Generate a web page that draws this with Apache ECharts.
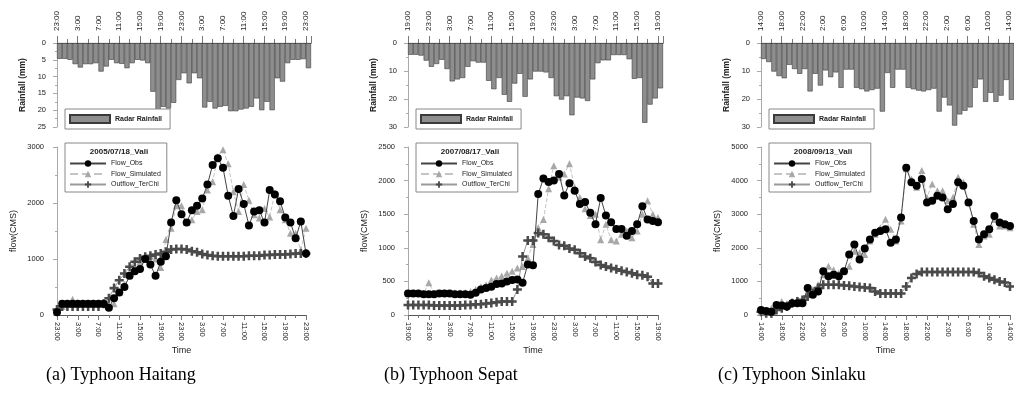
<!DOCTYPE html>
<html><head><meta charset="utf-8">
<script src="https://cdn.jsdelivr.net/npm/echarts@6/dist/echarts.min.js"></script>
<style>html,body{margin:0;padding:0;background:#fff;}#c{width:1014px;height:399px;}</style>
</head><body><div id="c"></div>
<script>
// ---------- DATA ----------
const timeLabelsA = ['23:00','3:00','7:00','11:00','15:00','19:00','23:00','3:00','7:00','11:00','15:00','19:00','23:00'];
const timeLabelsB = ['19:00','23:00','3:00','7:00','11:00','15:00','19:00','23:00','3:00','7:00','11:00','15:00','19:00'];
const timeLabelsC = ['14:00','18:00','22:00','2:00','6:00','10:00','14:00','18:00','22:00','2:00','6:00','10:00','14:00'];

const eventA = '2005/07/18_Vali';
const eventB = '2007/08/17_Vali';
const eventC = '2008/09/13_Vali';
const captions = ['(a) Typhoon Haitang', '(b) Typhoon Sepat', '(c) Typhoon Sinlaku'];

const rainA = [4.7,4.7,5.0,6.3,7.3,6.3,6.3,6.0,8.5,7.0, 5.0,6.0,6.2,7.5,6.0,5.0,5.2,6.0,14.5,21.0, 19.0,19.5,17.8,11.0,9.0,12.0,9.0,10.5,19.2,17.5, 19.5,19.0,18.7,20.3,20.3,19.8,19.5,19.0,16.5,20.0, 17.5,20.0,10.5,11.5,6.0,5.0,5.0,4.8,7.5];
const rainB = [4.2,4.2,4.5,6.3,8.5,7.5,6.0,9.3,13.7,13.0, 12.5,8.5,6.5,7.0,7.0,13.5,16.5,12.5,18.5,21.0, 14.5,11.0,19.2,13.0,10.2,10.2,10.5,12.5,19.0,20.2, 19.0,25.8,19.5,19.8,20.7,13.0,7.2,6.2,6.2,4.3, 4.3,4.3,5.8,12.8,12.5,28.5,22.0,19.8,16.2];
const rainC = [5.7,6.8,10.2,11.8,12.6,7.8,9.3,11.0,9.3,17.3, 11.0,15.2,9.8,12.2,10.5,16.0,9.5,9.5,16.0,16.5, 17.3,16.8,16.3,24.5,10.7,16.0,9.5,9.5,16.0,16.5, 17.0,17.3,16.8,16.3,24.5,19.5,22.3,29.5,25.5,24.2, 23.0,16.0,13.0,21.0,17.8,21.0,18.8,13.2,20.3];

const obsA = [50,200,200,200,200,200,200,200,200,200, 130,300,400,500,700,780,820,1000,900,700, 950,1050,1650,2050,1800,1650,1870,1950,2080,2330, 2680,2800,2630,2130,1770,2250,1980,1600,1850,1870, 1650,2230,2150,2030,1740,1650,1370,1670,1100];
const simA = [80,150,200,280,220,200,200,200,200,200, 180,200,400,550,700,850,950,1000,1050,1000, 850,1350,1550,1950,1950,1650,1700,1850,1880,2230, 2380,2830,2950,2700,2200,1850,2330,2050,1790,1730, 1900,1750,2180,1880,1700,1460,1460,1160,1550];
const outA = [100,150,150,150,150,150,150,150,150,200, 300,480,620,740,860,950,1010,1040,1060,1080, 1100,1130,1170,1180,1180,1170,1140,1120,1090,1070, 1060,1050,1050,1050,1050,1050,1050,1060,1060,1060, 1070,1070,1080,1080,1080,1090,1100,1100,1100];

const obsB = [320,320,320,310,310,310,320,320,320,310, 310,310,300,330,380,400,420,460,470,500, 520,530,480,750,740,1800,2030,1980,2000,2100, 1780,1960,1850,1650,1680,1520,1350,1740,1480,1380, 1280,1280,1180,1250,1350,1620,1420,1400,1380];
const simB = [320,320,320,320,480,320,320,330,320,330, 330,330,350,380,420,450,520,550,580,620, 650,700,720,850,1050,1300,1420,1880,2220,2050, 2100,2250,1900,1750,1580,1480,1500,1120,1350,1120, 1100,1200,1250,1150,1250,1500,1700,1500,1450];
const outB = [150,150,150,150,150,140,140,140,140,140, 140,150,150,160,160,170,180,190,200,200, 200,380,870,1110,1110,1220,1200,1150,1100,1040, 1030,990,970,920,870,845,790,745,720,700, 680,660,640,620,600,590,570,470,470];

const obsC = [150,120,100,300,280,250,350,350,350,800, 600,700,1300,1150,1200,1150,1300,1800,2100,1650, 1980,2250,2450,2500,2550,2150,2250,2900,4380,3950, 3850,4050,3350,3400,3550,3500,3150,3300,3950,3850, 3350,2800,2250,2400,2550,2950,2750,2700,2650];
const simC = [100,100,200,300,400,350,400,450,450,600, 750,900,1200,1450,1350,1250,1300,1450,1900,1850, 1800,2200,2400,2600,2850,2550,2200,2800,4350,4050, 3800,4300,3500,3900,3700,3700,3400,3500,4100,3950, 3350,2700,2100,2350,2400,2850,2650,2650,2600];
const outC = [100,50,50,150,200,250,350,400,450,550, 650,800,900,900,900,900,880,870,850,830, 820,800,700,640,640,640,640,640,850,1100, 1220,1280,1280,1280,1280,1280,1280,1280,1280,1280, 1280,1280,1250,1150,1100,1050,1000,970,850];

// ---------- LAYOUT ----------
const layout = [
  {x:57,  rainW:254, flowW:249, rainMax:25, rainInt:5,  flowMax:3000, flowInt:1000, capX:46},
  {x:408, rainW:255, flowW:250, rainMax:30, rainInt:10, flowMax:2500, flowInt:500,  capX:384},
  {x:761, rainW:255, flowW:249, rainMax:30, rainInt:10, flowMax:5000, flowInt:1000, capX:718}
];
const panelData = [
  {labels:timeLabelsA, rain:rainA, obs:obsA, sim:simA, out:outA, ev:eventA},
  {labels:timeLabelsB, rain:rainB, obs:obsB, sim:simB, out:outB, ev:eventB},
  {labels:timeLabelsC, rain:rainC, obs:obsC, sim:simC, out:outC, ev:eventC}
];

const RAIN_TOP = 43, RAIN_H = 84, FLOW_TOP = 147, FLOW_H = 168;
const txt = '#222', axisCol = '#777';
const FONT = 'Liberation Sans';
const crossPath = 'path://M3.6,0H6.4V3.6H10V6.4H6.4V10H3.6V6.4H0V3.6H3.6Z';

const grid = [], xAxis = [], yAxis = [], series = [], legend = [], title = [];

panelData.forEach((p, k) => {
  const L = layout[k];
  const gRain = grid.length;
  grid.push({left:L.x, top:RAIN_TOP, width:L.rainW, height:RAIN_H});
  const gFlow = grid.length;
  grid.push({left:L.x, top:FLOW_TOP, width:L.flowW, height:FLOW_H});

  const fmt = v => (v % 4 === 0 && p.labels[v/4] !== undefined) ? p.labels[v/4] : '';
  const plain = v => String(v);
  xAxis.push({type:'value', gridIndex:gRain, position:'top', min:0, max:p.rain.length, interval:4,
    axisLine:{lineStyle:{color:'#333', width:1}}, splitLine:{show:false},
    axisTick:{show:true, inside:false, length:7, lineStyle:{color:axisCol}},
    minorTick:{show:true, splitNumber:2, length:4, lineStyle:{color:axisCol}},
    axisLabel:{rotate:90, margin:12, fontSize:8, color:txt, fontFamily:FONT, formatter:fmt}});
  yAxis.push({type:'value', gridIndex:gRain, inverse:true, min:0, max:L.rainMax, interval:L.rainInt,
    name:'Rainfall (mm)', nameLocation:'middle', nameGap:30, nameRotate:90,
    nameTextStyle:{fontSize:8.5, fontWeight:'bold', color:txt, fontFamily:FONT},
    axisLine:{show:true, lineStyle:{color:'#aaa'}}, splitLine:{show:false},
    axisTick:{show:true, length:4, lineStyle:{color:'#aaa'}},
    minorTick:{show:true, splitNumber:2, length:2, lineStyle:{color:'#aaa'}},
    axisLabel:{fontSize:7.5, color:txt, fontFamily:FONT, margin:11, formatter:plain}});
  xAxis.push({type:'value', gridIndex:gFlow, min:0, max:p.obs.length-1, interval:4,
    name:'Time', nameLocation:'middle', nameGap:31,
    nameTextStyle:{fontSize:9, color:txt, fontFamily:FONT},
    axisLine:{lineStyle:{color:'#555'}}, splitLine:{show:false},
    axisTick:{show:true, length:5, lineStyle:{color:'#777'}},
    minorTick:{show:true, splitNumber:2, length:3, lineStyle:{color:'#777'}},
    axisLabel:{rotate:-90, margin:7, fontSize:7.5, color:txt, fontFamily:FONT, formatter:fmt}});
  yAxis.push({type:'value', gridIndex:gFlow, min:0, max:L.flowMax, interval:L.flowInt,
    name:'flow(CMS)', nameLocation:'middle', nameGap:39, nameRotate:90,
    nameTextStyle:{fontSize:9, color:txt, fontFamily:FONT},
    axisLine:{show:true, lineStyle:{color:'#aaa'}}, splitLine:{show:false},
    axisTick:{show:true, length:4, lineStyle:{color:'#aaa'}},
    minorTick:{show:true, splitNumber:2, length:2, lineStyle:{color:'#aaa'}},
    axisLabel:{fontSize:7.5, color:txt, fontFamily:FONT, margin:13, formatter:plain}});

  const xi = xAxis.length;
  series.push({name:'Radar Rainfall', type:'bar', xAxisIndex:xi-2, yAxisIndex:xi-2,
    data:p.rain.map((v,i)=>[i+0.5, v]), barWidth:'100%', barGap:'-100%',
    itemStyle:{color:'#8e8e8e', borderColor:'#3a3a3a', borderWidth:0.6}, silent:true});
  series.push({name:'Flow_Simulated', type:'line', xAxisIndex:xi-1, yAxisIndex:xi-1,
    data:p.sim.map((v,i)=>[i, v]), symbol:'triangle', symbolSize:7,
    lineStyle:{color:'#c4c4c4', width:1, type:'dashed'}, itemStyle:{color:'#a8a8a8'}, z:2});
  series.push({name:'Outflow_TerChi', type:'line', xAxisIndex:xi-1, yAxisIndex:xi-1,
    data:p.out.map((v,i)=>[i, v]), symbol:crossPath, symbolSize:9,
    lineStyle:{color:'#9a9a9a', width:1}, itemStyle:{color:'#4a4a4a'}, z:3});
  series.push({name:'Flow_Obs', type:'line', xAxisIndex:xi-1, yAxisIndex:xi-1,
    data:p.obs.map((v,i)=>[i, v]), symbol:'circle', symbolSize:8,
    lineStyle:{color:'#444', width:1}, itemStyle:{color:'#000'}, z:4});

  legend.push({data:['Radar Rainfall'], left:L.x+8, top:RAIN_TOP+66, orient:'vertical',
    padding:[5,8,5,4], itemWidth:40, itemHeight:8, borderColor:'#888', borderWidth:1, backgroundColor:'#fff',
    icon:'rect', textStyle:{fontSize:7, fontWeight:'bold', color:txt, fontFamily:FONT}, selectedMode:false});
  legend.push({data:['Flow_Obs','Flow_Simulated','Outflow_TerChi'], left:L.x+8, top:FLOW_TOP-4, orient:'vertical',
    padding:[17,6,4,4], itemWidth:36, itemHeight:8, itemGap:3.5, borderColor:'#888', borderWidth:1,
    textStyle:{fontSize:7, color:txt, fontFamily:FONT}, selectedMode:false});
  title.push({text:p.ev, left:L.x+62, top:FLOW_TOP+1, textAlign:'center', padding:0,
    textStyle:{fontSize:8, fontWeight:'bold', color:txt, fontFamily:FONT}});
  title.push({text:captions[k], left:L.capX, top:366, padding:0,
    textStyle:{fontSize:18, fontWeight:'normal', color:'#000', fontFamily:'Liberation Serif'}});
});

const chart = echarts.init(document.getElementById('c'), null, {renderer:'canvas'});
chart.setOption({animation:false, backgroundColor:'#fff', grid, xAxis, yAxis, series, legend, title});
</script></body></html>
